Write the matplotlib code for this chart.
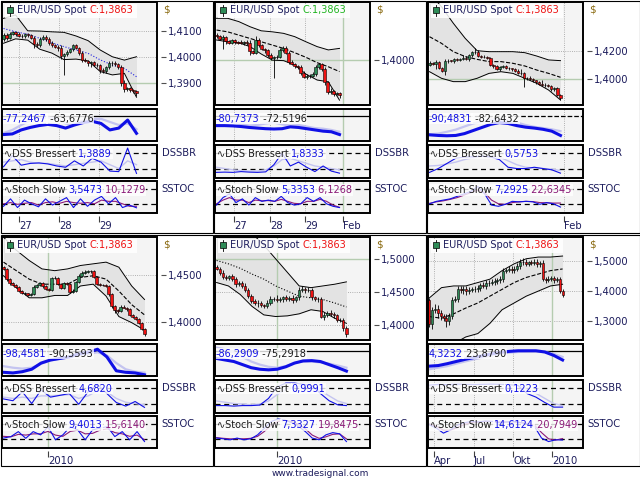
import numpy as np
import matplotlib
matplotlib.use('Agg')
import matplotlib.pyplot as plt
from matplotlib.patches import Rectangle

plt.rcParams['font.family'] = ['DejaVu Sans']

W, H = 640, 480

NAVY = '#1c1c5c'
DARK = '#1a1a1a'
BLUE = '#1010e6'
LAV = '#c4c4f0'
PURP = '#8b1a78'
UPC = '#2e8b57'
DNC = '#ee1111'
GREEN_LINE = '#b5ccb0'
GRID = '#9a9a9a'
BG = '#f4f4f4'
FILL = '#e3e3e3'

SYMBOL = 'EUR/USD Spot '
LAST = 'C:1,3863'
LEVEL_WPR = -20
LEVELS_OSC = [20, 80]

# ---------------- panel 1 (top left) ----------------
p1_open0 = 1.4070
p1_close = [1.4085, 1.4075, 1.4090, 1.4095, 1.4088, 1.4082, 1.4080, 1.4088, 1.4084, 1.4075,
            1.4050, 1.4045, 1.4070, 1.4078, 1.4070, 1.4055, 1.4045, 1.4040, 1.4035, 1.4005,
            1.4010, 1.4020, 1.4030, 1.4045, 1.4035, 1.4015, 1.3990, 1.3985, 1.3975, 1.3980,
            1.3970, 1.3968, 1.3950, 1.3945, 1.3960, 1.3975, 1.3978, 1.3972, 1.3960, 1.3900,
            1.3875, 1.3880, 1.3872, 1.3868, 1.3863]
p1_upw = [6, 8, 5, 6, 4, 8, 6, 5, 4, 6, 5, 8, 6, 5, 7, 6, 5, 6, 8, 10, 6, 8, 5, 6, 4, 5, 8, 6, 5, 4,
          6, 8, 5, 6, 4, 8, 6, 5, 6, 8, 10, 6, 5, 4, 4]
p1_dnw = [8, 10, 6, 5, 8, 6, 5, 7, 6, 5, 15, 8, 6, 5, 7, 8, 6, 5, 10, 12, 75, 8, 6, 5, 6, 8, 10, 6, 8, 12,
          6, 8, 10, 8, 6, 5, 8, 6, 5, 10, 8, 6, 5, 8, 12]
p1_bb_up = [1.4149, 1.4162, 1.4101, 1.4100, 1.4097, 1.4095, 1.4081, 1.4063, 1.4027, 1.4001, 1.3988, 1.4001]
p1_bb_mid = [1.4110, 1.4097, 1.4088, 1.4072, 1.4055, 1.4040, 1.4027, 1.4014, 1.3989, 1.3969, 1.3956, 1.3924]
p1_bb_lo = [1.4053, 1.4070, 1.4065, 1.4030, 1.4015, 1.3990, 1.3992, 1.3985, 1.3944, 1.3931, 1.3937, 1.3845]
p1_wpr = [-81, -79, -66, -58, -52, -48, -52, -60, -50, -42, -38, -45, -66, -60, -34, -77]
p1_wpr_sig = [-76, -66, -50, -35, -28, -25, -30, -45, -48, -35, -30, -30, -40, -50, -45, -64]
p1_dss = [27, 70, 33, 40, 42, 38, 30, 25, 50, 30, 60, 45, 10, 8, 100, 1]
p1_dss_sig = [45, 50, 55, 45, 40, 40, 35, 30, 35, 40, 45, 50, 35, 20, 50, 35]
p1_sto = [10, 40, 5, 35, 20, 8, 40, 15, 30, 45, 5, 40, 10, 35, 50, 20, 45, 5, 15, 4]
p1_sto_d = [20, 25, 18, 22, 25, 15, 25, 28, 22, 30, 25, 22, 25, 20, 35, 30, 30, 20, 10, 10]
p1_values = ['-77,2467', '-63,6776', '1,3889', '3,5473', '10,1279']
p1_yticks = [1.39, 1.40, 1.41]
p1_dates = [5.1, 18.4, 31.6]
p1_date_labels = ['27', '28', '29']

# ---------------- panel 2 (top middle) ----------------
p2_open0 = 1.4100
p2_close = [1.4095, 1.4085, 1.4090, 1.4075, 1.4070, 1.4078, 1.4072, 1.4070, 1.4068, 1.4072,
            1.4070, 1.4035, 1.4030, 1.4080, 1.4060, 1.4045, 1.4040, 1.4020, 1.4010, 1.4012,
            1.4015, 1.4040, 1.4050, 1.4030, 1.3995, 1.3985, 1.3978, 1.3975, 1.3950, 1.3935,
            1.3940, 1.3938, 1.3945, 1.3975, 1.3985, 1.3965, 1.3915, 1.3875, 1.3880, 1.3870,
            1.3872, 1.3863]
p2_upw = [6, 5, 8, 5, 6, 4, 6, 5, 8, 4, 6, 8, 5, 15, 6, 5, 4, 6, 8, 5, 6, 10, 6, 5, 8, 6, 5, 4, 6, 8,
          5, 6, 8, 6, 5, 4, 8, 6, 10, 5, 4, 4]
p2_dnw = [8, 6, 40, 10, 6, 5, 8, 6, 5, 6, 8, 15, 6, 5, 8, 6, 10, 6, 8, 80, 6, 5, 8, 6, 10, 5, 6, 8, 6, 5,
          8, 6, 5, 6, 8, 6, 10, 5, 6, 8, 6, 10]
p2_bb_up = [1.4165, 1.4165, 1.4152, 1.4132, 1.4116, 1.4112, 1.4106, 1.4093, 1.4073, 1.4054, 1.4041, 1.4047]
p2_bb_mid = [1.4119, 1.4112, 1.4099, 1.4086, 1.4073, 1.4060, 1.4047, 1.4030, 1.4012, 1.3991, 1.3975, 1.3956]
p2_bb_lo = [1.4080, 1.4073, 1.4069, 1.4054, 1.4025, 1.4001, 1.3999, 1.3982, 1.3946, 1.3923, 1.3916, 1.3844]
p2_wpr = [-52, -52, -53, -55, -58, -60, -62, -63, -62, -56, -58, -62, -66, -70, -72, -81]
p2_wpr_sig = [-29, -32, -40, -48, -52, -50, -45, -42, -48, -52, -50, -55, -60, -62, -66, -72]
p2_dss = [5, 6, 5, 8, 6, 5, 7, 35, 80, 30, 45, 25, 8, 30, 10, 2]
p2_dss_sig = [25, 20, 15, 12, 10, 10, 15, 30, 55, 60, 50, 40, 30, 25, 20, 15]
p2_sto = [15, 45, 60, 25, 40, 15, 45, 30, 35, 30, 50, 25, 15, 20, 45, 30, 45, 20, 10, 5]
p2_sto_d = [20, 35, 45, 35, 35, 25, 35, 32, 33, 30, 38, 30, 22, 20, 30, 30, 38, 30, 15, 6]
p2_values = ['-80,7373', '-72,5196', '1,8333', '5,3353', '6,1268']
p2_yticks = [1.40]
p2_dates = [5.8, 17.8, 29.5, 42.2]
p2_date_labels = ['27', '28', '29', 'Feb']

# ---------------- panel 3 (top right) ----------------
p3_open0 = 1.4100
p3_close = [1.4115, 1.4110, 1.4120, 1.4080, 1.4055, 1.4125, 1.4130, 1.4128, 1.4140, 1.4135,
            1.4145, 1.4150, 1.4140, 1.4170, 1.4190, 1.4195, 1.4165, 1.4160, 1.4155, 1.4150,
            1.4100, 1.4090, 1.4070, 1.4085, 1.4090, 1.4080, 1.4075, 1.4070, 1.4060, 1.4045,
            1.4040, 1.4005, 1.4010, 1.4000, 1.3990, 1.3975, 1.3965, 1.3960, 1.3955, 1.3950,
            1.3925, 1.3935, 1.3885, 1.3863]
p3_upw = [10, 8, 12, 8, 6, 15, 10, 8, 12, 10, 8, 20, 15, 10, 12, 25, 10, 8, 10, 8, 8, 6, 10, 8, 12,
          10, 8, 6, 8, 10, 25, 8, 6, 10, 8, 6, 10, 25, 8, 6, 10, 6, 8, 6]
p3_dnw = [10, 12, 40, 10, 8, 30, 10, 8, 12, 10, 8, 10, 8, 12, 10, 8, 10, 12, 8, 10, 8, 10, 8, 12, 10,
          8, 10, 12, 10, 8, 10, 60, 12, 8, 10, 8, 10, 12, 10, 8, 10, 8, 10, 12]
p3_bb_up = [1.4612, 1.4517, 1.4398, 1.4290, 1.4202, 1.4195, 1.4195, 1.4195, 1.4188, 1.4164, 1.4136, 1.4131]
p3_bb_mid = [1.4302, 1.4255, 1.4195, 1.4160, 1.4140, 1.4124, 1.4124, 1.4112, 1.4093, 1.4064, 1.4040, 1.4012]
p3_bb_lo = [1.4052, 1.4005, 1.3981, 1.3981, 1.4005, 1.4040, 1.4052, 1.4040, 1.4005, 1.3969, 1.3921, 1.3850]
p3_wpr = [-82, -84, -85, -84, -78, -68, -58, -48, -42, -45, -52, -57, -60, -64, -70, -84]
p3_wpr_sig = [-80, -78, -72, -65, -55, -45, -38, -33, -32, -36, -42, -50, -56, -60, -64, -70]
p3_dss = [5, 20, 40, 60, 65, 66, 68, 65, 55, 25, 20, 20, 25, 20, 15, 2]
p3_dss_sig = [30, 32, 38, 45, 55, 62, 68, 70, 65, 50, 35, 25, 22, 20, 18, 12]
p3_sto = [20, 30, 35, 40, 50, 60, 70, 90, 60, 15, 10, 18, 30, 28, 30, 28, 18, 25, 20, 7]
p3_sto_d = [22, 28, 32, 38, 45, 55, 65, 75, 65, 35, 20, 18, 25, 28, 30, 29, 25, 24, 23, 23]
p3_values = ['-90,4831', '-82,6432', '0,5753', '7,2925', '22,6345']
p3_yticks = [1.40, 1.42]
p3_dates = [44.1]
p3_date_labels = ['Feb']

# ---------------- panel 4 (bottom left) ----------------
p4_open0 = 1.4580
p4_close = [1.4560, 1.4450, 1.4410, 1.4390, 1.4370, 1.4330, 1.4310, 1.4300, 1.4280, 1.4290,
            1.4370, 1.4395, 1.4410, 1.4380, 1.4350, 1.4340, 1.4460, 1.4470, 1.4400, 1.4360,
            1.4410, 1.4400, 1.4320, 1.4330, 1.4420, 1.4490, 1.4520, 1.4530, 1.4540, 1.4535,
            1.4480, 1.4400, 1.4390, 1.4385, 1.4380, 1.4290, 1.4170, 1.4120, 1.4110, 1.4160,
            1.4150, 1.4130, 1.4070, 1.4050, 1.4030, 1.3990, 1.3920, 1.3863]
p4_upw = [15, 10, 12, 10, 15, 10, 12, 10, 8, 10, 15, 10, 12, 10, 15, 10, 20, 15, 10, 12, 15, 10, 12, 15,
          10, 20, 15, 18, 12, 10, 12, 10, 15, 10, 12, 10, 10, 12, 15, 20, 12, 10, 15, 10, 12, 10, 10, 8]
p4_dnw = [10, 12, 15, 10, 12, 10, 15, 20, 12, 10, 10, 12, 15, 20, 12, 10, 12, 10, 15, 12, 10, 12, 15, 10,
          12, 10, 15, 12, 10, 12, 15, 10, 12, 10, 15, 12, 20, 25, 15, 12, 10, 15, 12, 10, 15, 12, 10, 15]
p4_bb_up = [1.4900, 1.4761, 1.4652, 1.4562, 1.4543, 1.4562, 1.4598, 1.4616, 1.4634, 1.4580, 1.4380, 1.4236]
p4_bb_mid = [1.4634, 1.4543, 1.4453, 1.4399, 1.4399, 1.4399, 1.4471, 1.4489, 1.4453, 1.4326, 1.4181, 1.4072]
p4_bb_lo = [1.4489, 1.4362, 1.4254, 1.4254, 1.4279, 1.4279, 1.4380, 1.4399, 1.4272, 1.4054, 1.3989, 1.3909]
p4_wpr = [-90, -92, -88, -80, -60, -50, -45, -40, -30, -25, -15, -40, -85, -90, -92, -98]
p4_wpr_sig = [-70, -75, -78, -75, -62, -52, -45, -40, -35, -30, -25, -35, -60, -80, -88, -91]
p4_dss = [38, 31, 66, 20, 73, 45, 52, 59, 17, 66, 95, 59, 24, 10, 28, 5]
p4_dss_sig = [45, 40, 45, 40, 50, 50, 52, 55, 40, 50, 70, 65, 40, 25, 20, 15]
p4_sto = [23, 29, 49, 22, 49, 36, 69, 16, 36, 69, 56, 16, 56, 63, 69, 29, 49, 16, 49, 9]
p4_sto_d = [30, 28, 38, 35, 40, 40, 50, 35, 30, 50, 55, 40, 42, 55, 60, 45, 40, 30, 35, 16]
p4_values = ['-98,4581', '-90,5593', '4,6820', '9,4013', '15,6140']
p4_yticks = [1.40, 1.45]
p4_dates = [14.8]
p4_date_labels = ['2010']

# ---------------- panel 5 (bottom middle) ----------------
p5_open0 = 1.4880
p5_close = [1.4860, 1.4800, 1.4730, 1.4720, 1.4740, 1.4700, 1.4620, 1.4640, 1.4600, 1.4540,
            1.4450, 1.4370, 1.4340, 1.4330, 1.4300, 1.4290, 1.4340, 1.4390, 1.4400, 1.4380,
            1.4390, 1.4420, 1.4400, 1.4410, 1.4380, 1.4420, 1.4540, 1.4550, 1.4530, 1.4540,
            1.4420, 1.4390, 1.4400, 1.4130, 1.4160, 1.4180, 1.4170, 1.4150, 1.4080, 1.4070,
            1.3950, 1.3863]
p5_upw = [30, 25, 40, 30, 25, 35, 30, 25, 30, 40, 30, 25, 30, 35, 30, 25, 40, 50, 30, 60, 35, 30, 40,
          30, 45, 30, 35, 40, 30, 35, 30, 25, 30, 35, 40, 30, 45, 30, 25, 30, 35, 30]
p5_dnw = [25, 30, 35, 30, 40, 30, 35, 30, 40, 30, 35, 30, 40, 50, 30, 35, 30, 40, 30, 35, 30, 40, 35,
          30, 40, 30, 35, 30, 40, 30, 35, 30, 40, 30, 50, 40, 30, 45, 35, 30, 40, 50]
p5_bb_up = [1.5425, 1.5450, 1.5450, 1.5400, 1.5218, 1.5010, 1.4803, 1.4596, 1.4570, 1.4596, 1.4622, 1.4658]
p5_bb_mid = [1.4984, 1.4933, 1.4865, 1.4777, 1.4700, 1.4596, 1.4518, 1.4440, 1.4415, 1.4389, 1.4337, 1.4275]
p5_bb_lo = [1.4648, 1.4596, 1.4466, 1.4285, 1.4155, 1.4130, 1.4140, 1.4171, 1.4233, 1.4207, 1.4104, 1.4026]
p5_wpr = [-45, -50, -55, -65, -75, -80, -82, -80, -72, -60, -53, -52, -55, -65, -75, -86]
p5_wpr_sig = [-10, -15, -25, -40, -55, -65, -72, -75, -70, -60, -55, -55, -58, -62, -68, -75]
p5_dss = [12, 12, 10, 12, 12, 14, 40, 85, 100, 100, 95, 90, 59, 31, 15, 12]
p5_dss_sig = [30, 25, 20, 18, 15, 18, 30, 55, 75, 85, 90, 85, 70, 50, 30, 20]
p5_sto = [23, 20, 16, 23, 16, 20, 36, 63, 90, 100, 95, 85, 70, 49, 23, 16, 36, 45, 40, 9]
p5_sto_d = [25, 22, 20, 20, 20, 22, 30, 50, 75, 90, 95, 90, 78, 60, 35, 22, 28, 38, 40, 20]
p5_values = ['-86,2909', '-75,2918', '0,9991', '7,3327', '19,8475']
p5_yticks = [1.40, 1.45, 1.50]
p5_dates = [19.1]
p5_date_labels = ['2010']

# ---------------- panel 6 (bottom right) ----------------
p6_open0 = 1.3710
p6_close = [1.2880, 1.3350, 1.3400, 1.3250, 1.3150, 1.3100, 1.3000, 1.3150, 1.3700, 1.3720,
            1.4080, 1.4020, 1.4060, 1.4000, 1.4040, 1.4060, 1.4050, 1.4100, 1.4200, 1.4180,
            1.4250, 1.4280, 1.4300, 1.4320, 1.4350, 1.4400, 1.4680, 1.4700, 1.4720, 1.4700,
            1.4750, 1.4850, 1.4960, 1.4980, 1.4920, 1.4960, 1.4950, 1.4980, 1.4900, 1.4950,
            1.4400, 1.4380, 1.4400, 1.4420, 1.4380, 1.4400, 1.4000, 1.3863]
p6_upw = [60, 100, 150, 120, 100, 80, 120, 100, 80, 120, 100, 80, 90, 120, 100, 80, 90, 100, 80, 90,
          100, 80, 90, 100, 80, 90, 100, 80, 120, 100, 80, 90, 100, 120, 80, 60, 90, 100, 80, 60,
          80, 60, 90, 80, 70, 60, 80, 60]
p6_dnw = [80, 150, 100, 150, 120, 100, 200, 150, 100, 80, 90, 100, 120, 150, 100, 90, 80, 100, 90, 80,
          100, 90, 80, 100, 90, 80, 100, 90, 80, 100, 90, 80, 100, 90, 80, 100, 90, 80, 100, 90,
          80, 100, 90, 80, 100, 90, 80, 60]
p6_bb_up = [1.3766, 1.4109, 1.4166, 1.4166, 1.4280, 1.4394, 1.4680, 1.4909, 1.5080, 1.5137, 1.5137, 1.5171]
p6_bb_mid = [1.3137, 1.3080, 1.3229, 1.3423, 1.3594, 1.3823, 1.4051, 1.4280, 1.4451, 1.4566, 1.4680, 1.4737]
p6_bb_lo = [1.2109, 1.2109, 1.2223, 1.2451, 1.2566, 1.2909, 1.3366, 1.3594, 1.3823, 1.3994, 1.4166, 1.4223]
p6_wpr = [-70, -68, -62, -55, -48, -42, -36, -30, -25, -22, -20, -20, -20, -24, -35, -50]
p6_wpr_sig = [-80, -75, -70, -62, -55, -48, -42, -36, -30, -26, -24, -22, -22, -24, -30, -40]
p6_dss = [92, 95, 94, 96, 95, 94, 95, 96, 95, 94, 90, 59, 45, 24, 6, 6]
p6_dss_sig = [85, 90, 92, 94, 95, 95, 95, 95, 95, 94, 92, 75, 60, 40, 20, 12]
p6_sto = [76, 63, 43, 56, 75, 85, 90, 88, 92, 90, 85, 88, 90, 85, 80, 69, 23, 9, 16, 15]
p6_sto_d = [80, 70, 55, 55, 65, 78, 85, 88, 90, 90, 88, 88, 88, 86, 82, 75, 45, 20, 15, 21]
p6_values = ['4,3232', '23,8790', '0,1223', '14,6124', '20,7949']
p6_yticks = [1.30, 1.40, 1.50]
p6_dates = [1.6, 15.7, 29.5, 43.3]
p6_date_labels = ['Apr', 'Jul', 'Okt', '2010']


def panel(open0, close, upw, dnw, up, mid, lo, wpr, wpr_sig, dss, dss_sig, sto, sto_d,
          values, yticks, dates, date_labels):
    return dict(open0=open0, close=close, upw=upw, dnw=dnw, up=up, mid=mid, lo=lo,
                wpr=wpr, wpr_sig=wpr_sig, dss=dss, dss_sig=dss_sig, sto=sto, sto_d=sto_d,
                values=values, yticks=yticks, dates=dates, date_labels=date_labels)


PANELS = [
    panel(p1_open0, p1_close, p1_upw, p1_dnw, p1_bb_up, p1_bb_mid, p1_bb_lo, p1_wpr, p1_wpr_sig,
          p1_dss, p1_dss_sig, p1_sto, p1_sto_d, p1_values, p1_yticks, p1_dates, p1_date_labels),
    panel(p2_open0, p2_close, p2_upw, p2_dnw, p2_bb_up, p2_bb_mid, p2_bb_lo, p2_wpr, p2_wpr_sig,
          p2_dss, p2_dss_sig, p2_sto, p2_sto_d, p2_values, p2_yticks, p2_dates, p2_date_labels),
    panel(p3_open0, p3_close, p3_upw, p3_dnw, p3_bb_up, p3_bb_mid, p3_bb_lo, p3_wpr, p3_wpr_sig,
          p3_dss, p3_dss_sig, p3_sto, p3_sto_d, p3_values, p3_yticks, p3_dates, p3_date_labels),
    panel(p4_open0, p4_close, p4_upw, p4_dnw, p4_bb_up, p4_bb_mid, p4_bb_lo, p4_wpr, p4_wpr_sig,
          p4_dss, p4_dss_sig, p4_sto, p4_sto_d, p4_values, p4_yticks, p4_dates, p4_date_labels),
    panel(p5_open0, p5_close, p5_upw, p5_dnw, p5_bb_up, p5_bb_mid, p5_bb_lo, p5_wpr, p5_wpr_sig,
          p5_dss, p5_dss_sig, p5_sto, p5_sto_d, p5_values, p5_yticks, p5_dates, p5_date_labels),
    panel(p6_open0, p6_close, p6_upw, p6_dnw, p6_bb_up, p6_bb_mid, p6_bb_lo, p6_wpr, p6_wpr_sig,
          p6_dss, p6_dss_sig, p6_sto, p6_sto_d, p6_values, p6_yticks, p6_dates, p6_date_labels),
]

# layout / style per panel (cell origin, data right edge px, price range, lines)
STYLE = [
    dict(cx=0, cy=0, end=138, ylim=(1.3815, 1.4212), mid=('#2020e0', ':'), wls='-',
         gh=[1.39], gv=[], ccol=DNC),
    dict(cx=213, cy=0, end=128, ylim=(1.3825, 1.4229), mid=('black', '--'), wls='-',
         gh=[1.40], gv=[42.2], ccol='#22b522'),
    dict(cx=426, cy=0, end=136, ylim=(1.3814, 1.4550), mid=('black', '--'), wls='--',
         gh=[1.40], gv=[], ccol=DNC),
    dict(cx=0, cy=235, end=146, ylim=(1.3804, 1.4902), mid=('black', '--'), wls='-',
         gh=[], gv=[14.8], ccol=DNC),
    dict(cx=213, cy=235, end=135, ylim=(1.3772, 1.5342), mid=('black', ':'), wls='-',
         gh=[1.50], gv=[19.1], ccol=DNC),
    dict(cx=426, cy=235, end=138, ylim=(1.2349, 1.5811), mid=('black', '--'), wls='-',
         gh=[], gv=[43.3], ccol=DNC),
]


def px_axes(fig, x0, y0, x1, y1):
    return fig.add_axes([x0 / W, 1 - y1 / H, (x1 - x0) / W, (y1 - y0) / H])


def frame(ax, lw=1.4):
    for sp in ax.spines.values():
        sp.set_visible(False)
    ax.add_patch(Rectangle((0, 0), 1, 1, transform=ax.transAxes, fill=False, ec='black',
                           lw=lw, clip_on=False, zorder=10))


def chain_text(ax, x, y, parts, size=7, box=True):
    kw = dict(fontsize=size, zorder=8)
    if box:
        kw['bbox'] = dict(fc='white', ec='none', alpha=0.8, pad=0.6)
    t = ax.text(x, y, parts[0][0], color=parts[0][1], transform=ax.transAxes,
                va='center', ha='left', **kw)
    for s, c in parts[1:]:
        t = ax.annotate(s, xy=(1, 0), xycoords=t, va='bottom', ha='left', color=c, **kw)
    return t


def sub_axes(fig, cx, cy, y0, y1, xl, P, S):
    ax = px_axes(fig, cx + 2, cy + y0, cx + 157, cy + y1)
    ax.set_facecolor(BG)
    ax.set_xlim(*xl)
    ax.set_xticks(P['dates'])
    ax.set_yticks([])
    ax.tick_params(axis='x', length=0, labelbottom=False)
    ax.set_axisbelow(True)
    ax.grid(axis='x', ls=':', color=GRID, lw=0.6)
    for v in S['gv']:
        ax.axvline(v, color=GREEN_LINE, lw=1, zorder=1)
    frame(ax)
    return ax


def draw_panel(fig, P, S):
    cx, cy = S['cx'], S['cy']
    close = np.array(P['close'])
    n = len(close)
    opens = np.r_[P['open0'], close[:-1]]
    hi = np.maximum(opens, close) + np.array(P['upw']) * 1e-4
    lo = np.minimum(opens, close) - np.array(P['dnw']) * 1e-4
    step = (S['end'] - 2) / n
    xl = (-0.5, -0.5 + 155 / step)
    x = np.arange(n)

    # ---- price box ----
    ax = px_axes(fig, cx + 2, cy + 2, cx + 157, cy + 105)
    ax.set_facecolor(BG)
    ax.set_xlim(*xl)
    ax.set_ylim(*S['ylim'])
    ax.set_axisbelow(True)
    bx = np.linspace(0, n - 1, len(P['up']))
    ax.fill_between(bx, P['lo'], P['up'], color=FILL, lw=0, zorder=1)
    ax.plot(bx, P['up'], color='black', lw=0.7, zorder=2)
    ax.plot(bx, P['lo'], color='black', lw=0.7, zorder=2)
    ax.plot(bx, P['mid'], color=S['mid'][0], ls=S['mid'][1], lw=0.8, zorder=2)
    for v in S['gh']:
        ax.axhline(v, color=GREEN_LINE, lw=1, zorder=1.5)
    for v in S['gv']:
        ax.axvline(v, color=GREEN_LINE, lw=1, zorder=1.5)

    ax.vlines(x, lo, hi, color='black', lw=0.6, zorder=3)
    minh = (S['ylim'][1] - S['ylim'][0]) * 0.006
    body_lo = np.minimum(opens, close)
    body_h = np.maximum(np.abs(close - opens), minh)
    up = close >= opens
    ax.bar(x[up], body_h[up], bottom=body_lo[up], width=0.75, color=UPC,
           edgecolor='black', lw=0.4, zorder=4)
    ax.bar(x[~up], body_h[~up], bottom=body_lo[~up], width=0.75, color=DNC,
           edgecolor='black', lw=0.4, zorder=4)

    ax.yaxis.tick_right()
    ax.set_yticks(P['yticks'])
    ax.set_yticklabels([f'{v:.4f}'.replace('.', ',') for v in P['yticks']])
    ax.tick_params(axis='y', length=3.5, width=0.8, color='#505050', pad=1.5,
                   labelsize=7.2, labelcolor=NAVY)
    ax.set_xticks(P['dates'])
    ax.tick_params(axis='x', length=0, labelbottom=False)
    ax.grid(True, ls=':', color=GRID, lw=0.6)
    frame(ax)
    ax.spines['right'].set_position(('outward', 3))
    ax.text(1.04, 0.925, '$', transform=ax.transAxes, color='#8a6a10', fontsize=7.5,
            va='center', ha='left')

    # legend
    ax.add_patch(Rectangle((0.019, 0.845), 0.853, 0.14, transform=ax.transAxes, fc='white',
                           ec='none', alpha=0.85, zorder=6))
    ax.plot([0.052, 0.052], [0.865, 0.975], color='black', lw=0.6, transform=ax.transAxes,
            zorder=7)
    ax.plot([0.052], [0.92], marker='s', ms=4, mfc=UPC, mec='black', mew=0.5,
            transform=ax.transAxes, zorder=7)
    chain_text(ax, 0.097, 0.918, [(SYMBOL, NAVY), (LAST, S['ccol'])], box=False)

    v = P['values']

    # ---- Williams %R style box ----
    a1 = sub_axes(fig, cx, cy, 109, 141, xl, P, S)
    a1.set_ylim(-102, 2)
    xw = np.linspace(0, n - 1, len(P['wpr']))
    a1.axhline(LEVEL_WPR, color='black', lw=0.9, ls=S['wls'], zorder=2)
    a1.plot(xw, P['wpr_sig'], color=LAV, lw=1.6, zorder=3)
    a1.plot(xw, P['wpr'], color=BLUE, lw=2.2, zorder=4)
    chain_text(a1, 0.006, 0.70, [(v[0], BLUE), (' ' + v[1], DARK)])

    # ---- DSS Bressert box ----
    a2 = sub_axes(fig, cx, cy, 145, 178, xl, P, S)
    a2.set_ylim(-17, 112)
    for lv in LEVELS_OSC:
        a2.axhline(lv, color='black', lw=0.9, ls=(0, (4, 3)), zorder=2)
    xd = np.linspace(0, n - 1, len(P['dss']))
    a2.plot(xd, P['dss_sig'], color=LAV, lw=1.0, zorder=3)
    a2.plot(xd, P['dss'], color=BLUE, lw=0.8, zorder=4)
    chain_text(a2, 0.01, 0.74, [('\u223fDSS Bressert ', DARK), (v[2], BLUE)])
    a2.text(1.03, 0.76, 'DSSBR', transform=a2.transAxes, color=NAVY, fontsize=7.2,
            va='center', ha='left')

    # ---- Stoch Slow box ----
    a3 = sub_axes(fig, cx, cy, 181, 213, xl, P, S)
    a3.set_ylim(-17, 112)
    for lv in LEVELS_OSC:
        a3.axhline(lv, color='black', lw=0.9, ls=(0, (4, 3)), zorder=2)
    xs = np.linspace(0, n - 1, len(P['sto']))
    a3.plot(xs, P['sto'], color=BLUE, lw=0.8, zorder=4)
    a3.plot(xs, P['sto_d'], color=PURP, lw=0.8, zorder=3)
    chain_text(a3, 0.01, 0.72, [('\u223fStoch Slow ', DARK), (v[3], BLUE), (' ' + v[4], PURP)])
    a3.text(1.03, 0.75, 'SSTOC', transform=a3.transAxes, color=NAVY, fontsize=7.2,
            va='center', ha='left')

    a3.set_xticklabels(P['date_labels'])
    a3.spines['bottom'].set_position(('outward', 2))
    a3.tick_params(axis='x', length=4, width=0.8, color='#404040', pad=0, direction='out',
                   labelsize=7.2, labelcolor=NAVY, labelbottom=True)
    for lbl in a3.get_xticklabels():
        lbl.set_ha('left')


fig = plt.figure(figsize=(W / 100, H / 100), dpi=100)
fig.patch.set_facecolor('white')

bg = fig.add_axes([0, 0, 1, 1], zorder=-1)
bg.set_xlim(0, W)
bg.set_ylim(H, 0)
bg.axis('off')
for cx in (0, 213, 426):
    w = 212 if cx < 426 else 213
    bg.add_patch(Rectangle((cx + 0.5, 0.5), w, 232.5, fill=False, ec='black', lw=0.8))
    bg.add_patch(Rectangle((cx + 0.5, 235), w, 231, fill=False, ec='black', lw=0.8))

for P, S in zip(PANELS, STYLE):
    draw_panel(fig, P, S)

fig.text(0.5, 1 - 473 / H, 'www.tradesignal.com', ha='center', va='center',
         fontsize=6.5, color=NAVY)

fig.savefig('out.png', dpi=100)
